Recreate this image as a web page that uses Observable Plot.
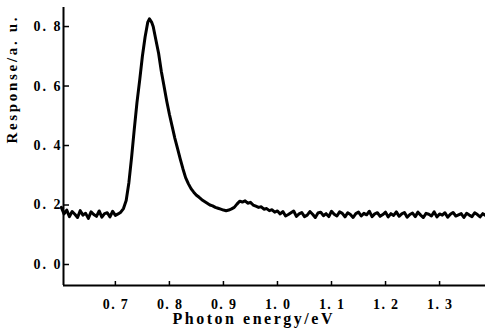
<!DOCTYPE html>
<html>
<head>
<meta charset="utf-8">
<script src="https://cdn.jsdelivr.net/npm/d3@7"></script>
<script src="https://cdn.jsdelivr.net/npm/@observablehq/plot@0.6"></script>
<style>
  html, body { margin: 0; padding: 0; background: white; }
</style>
</head>
<body>
<div id="chart"></div>
<script>
const energy = [
  0.600,0.605,0.610,0.615,0.620,0.625,0.630,0.635,0.640,0.645,0.650,0.655,0.660,0.665,0.670,0.675,
  0.680,0.685,0.690,0.695,0.700,0.705,0.710,0.715,
  0.720,0.725,0.730,0.735,0.740,0.745,0.750,0.755,0.760,0.763,0.767,0.770,0.775,0.780,0.785,0.790,
  0.795,0.800,0.805,0.810,0.815,0.820,0.825,0.830,0.835,0.840,0.845,0.850,0.855,0.860,0.865,0.870,
  0.875,0.880,0.885,0.890,0.895,0.900,0.905,0.910,0.915,0.920,0.925,0.930,0.935,0.940,0.945,0.950,
  0.955,0.960,0.965,0.970,0.975,0.980,0.985,0.990,0.995,1.000,
  1.005,1.010,1.015,1.020,1.025,1.030,1.035,1.040,1.045,1.050,1.055,1.060,1.065,1.070,1.075,1.080,
  1.085,1.090,1.095,1.100,1.105,1.110,1.115,1.120,1.125,1.130,1.135,1.140,1.145,1.150,1.155,1.160,
  1.165,1.170,1.175,1.180,1.185,1.190,1.195,1.200,1.205,1.210,1.215,1.220,1.225,1.230,1.235,1.240,
  1.245,1.250,1.255,1.260,1.265,1.270,1.275,1.280,1.285,1.290,1.295,1.300,1.305,1.310,1.315,1.320,
  1.325,1.330,1.335,1.340,1.345,1.350,1.355,1.360,1.365,1.370,1.375,1.380,1.385
];
const response = [
  0.192,0.170,0.183,0.161,0.178,0.169,0.158,0.181,0.166,0.172,0.155,0.177,0.168,0.162,0.180,0.159,
  0.171,0.174,0.160,0.179,0.165,0.170,0.176,0.188,
  0.215,0.275,0.360,0.455,0.545,0.620,0.700,0.765,0.815,0.826,0.815,0.800,0.755,0.710,0.650,0.600,
  0.550,0.505,0.465,0.425,0.390,0.355,0.322,0.292,0.272,0.255,0.243,0.233,0.226,0.218,0.212,0.206,
  0.200,0.197,0.192,0.189,0.186,0.183,0.181,0.183,0.187,0.192,0.203,0.213,0.210,0.214,0.206,0.209,
  0.200,0.196,0.192,0.194,0.186,0.188,0.181,0.184,0.176,0.180,
  0.170,0.178,0.163,0.168,0.174,0.180,0.162,0.170,0.175,0.161,0.166,0.178,0.169,0.158,0.173,0.176,
  0.164,0.171,0.161,0.179,0.169,0.163,0.177,0.172,0.160,0.174,0.168,0.158,0.171,0.176,0.163,0.172,
  0.167,0.179,0.161,0.170,0.174,0.162,0.168,0.176,0.160,0.171,0.165,0.177,0.162,0.170,0.175,0.159,
  0.168,0.173,0.161,0.176,0.166,0.158,0.172,0.169,0.163,0.177,0.160,0.170,0.166,0.174,0.159,0.169,
  0.175,0.163,0.167,0.171,0.158,0.172,0.166,0.161,0.174,0.168,0.160,0.171,0.165
];
const xTicks = [0.7, 0.8, 0.9, 1.0, 1.1, 1.2, 1.3];
const yTicks = [0.0, 0.2, 0.4, 0.6, 0.8];
const xLabel = "Photon energy/eV";
const yLabel = "Response/a. u.";

const data = energy.map((e, i) => ({e, r: response[i]}));
const fmt = d => d.toFixed(1).replace(".", ". ");
const xMin = 0.604, yMin = -0.0706;
const FONT = "Liberation Serif";

const chart = Plot.plot({
  width: 485,
  height: 333,
  marginLeft: 63,
  marginRight: 0,
  marginTop: 7,
  marginBottom: 48,
  x: {domain: [xMin, 1.385]},
  y: {domain: [yMin, 0.864]},
  style: {fontFamily: FONT, fontSize: "14px", fontWeight: "bold", background: "white", color: "black"},
  marks: [
    Plot.axisX(xTicks, {tickSize: 0, tickPadding: 14, tickFormat: fmt, label: null, fontFamily: FONT, fontSize: 14, fontWeight: "bold"}),
    Plot.axisY(yTicks, {tickSize: 0, tickPadding: 3, tickFormat: fmt, label: null, fontFamily: FONT, fontSize: 14, fontWeight: "bold"}),
    Plot.ruleX(xTicks, {insetTop: 274, strokeWidth: 1.5}),
    Plot.ruleY(yTicks, {insetRight: 416, strokeWidth: 1.5}),
    Plot.ruleX([xMin], {strokeWidth: 2}),
    Plot.ruleY([yMin], {strokeWidth: 2}),
    Plot.line(data, {x: "e", y: "r", stroke: "black", strokeWidth: 3, strokeLinejoin: "round"}),
    Plot.text([xLabel], {text: d => d, frameAnchor: "bottom", lineAnchor: "middle", dx: -22, dy: 33, fontSize: 16, fontWeight: "bold", fontFamily: FONT}),
    Plot.text([yLabel], {text: d => d, frameAnchor: "left", lineAnchor: "middle", rotate: -90, dx: -51, dy: -3, fontSize: 15, fontWeight: "bold", fontFamily: FONT})
  ]
});
const lengths = {"x-axis tick label": 25, "y-axis tick label": 27};
chart.querySelectorAll("text").forEach(t => {
  t.setAttribute("font-family", FONT);
  t.setAttribute("font-weight", "bold");
  const g = t.closest("g[aria-label]");
  let len = g && lengths[g.getAttribute("aria-label")];
  if (t.textContent === xLabel) len = 160;
  if (t.textContent === yLabel) len = 126;
  if (len) {
    t.setAttribute("textLength", len);
    t.setAttribute("lengthAdjust", "spacing");
  }
});
document.getElementById("chart").appendChild(chart);
</script>
</body>
</html>
